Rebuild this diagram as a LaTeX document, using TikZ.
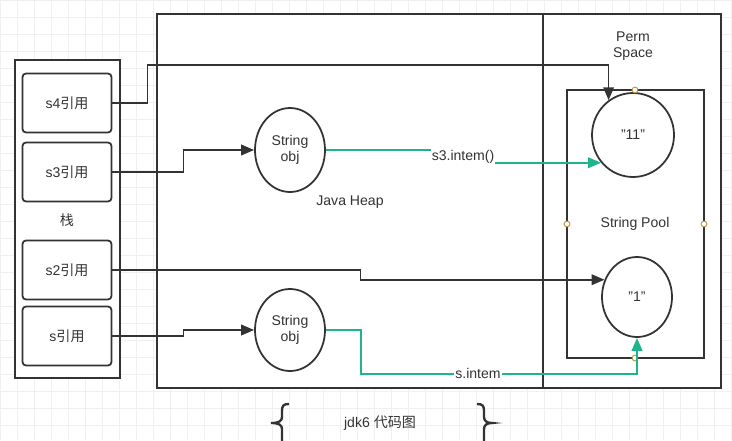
\documentclass[tikz,border=0pt]{standalone}
\usepackage{fontspec}
\setmainfont{Liberation Sans}
\newfontfamily\cjk{Noto Sans CJK SC}
\usetikzlibrary{shapes.geometric,arrows.meta,calc}
\definecolor{ink}{RGB}{51,51,51}
\definecolor{linkgreen}{RGB}{30,180,140}
\definecolor{portring}{RGB}{190,150,60}

\begin{document}
\begin{tikzpicture}[x=0.03cm,y=-0.03cm,
  every node/.style={font=\fontsize{12}{14}\selectfont,text=ink},
  frame/.style={draw=ink,line width=1.5pt,fill=white},
  refbox/.style={draw=ink,line width=1.5pt,rounded corners=3pt,fill=white,minimum width=2.67cm,minimum height=1.77cm},
  objcirc/.style={ellipse,draw=ink,line width=1.5pt,fill=white,inner sep=0pt,align=center},
  link/.style={draw=ink,line width=1.5pt,-{Triangle[length=11pt,width=9pt]}},
  greenlink/.style={draw=linkgreen,line width=1.5pt,-{Triangle[length=11pt,width=9pt]}},
  tag/.style={fill=white,inner sep=1pt},
  port/.style={circle,draw=portring,fill=white,line width=0.8pt,inner sep=0pt,minimum size=5pt}]
  \useasboundingbox (0,0) rectangle (732,440);
  \draw[black!6,step=0.51cm] (0,0) grid (732,440);
  % frames
  \draw[frame] (15,60) rectangle (120,378);
  \draw[frame] (157,14) rectangle (543,388);
  \draw[frame] (543,14) rectangle (721,388);
  \draw[frame] (567,90) rectangle (704,358);
  % stack
  \node[refbox] (s4ref) at (67,103) {s4\cjk 引用};
  \node[refbox] (s3ref) at (67,172) {s3\cjk 引用};
  \node (stack) at (67,220) {\cjk 栈};
  \node[refbox] (s2ref) at (67,270) {s2\cjk 引用};
  \node[refbox] (sref) at (67,336) {s\cjk 引用};
  % heap
  \node[objcirc,minimum width=2.1cm,minimum height=2.52cm] (obj3) at (290,150) {String\\obj};
  \node[objcirc,minimum width=2.1cm,minimum height=2.46cm] (obj0) at (290,330) {String\\obj};
  \node (heap) at (350,202) {Java Heap};
  % perm space
  \node[align=center] (perm) at (633,46) {Perm\\Space};
  \node (pool) at (635,224) {String Pool};
  \node[objcirc,minimum width=2.46cm,minimum height=2.52cm] (str11) at (633,135) {"11"};
  \node[objcirc,minimum width=2.1cm,minimum height=2.4cm] (str1) at (637,297) {"1"};
  \foreach \px/\py [count=\i] in {635/90,567/224,704/224,635/358}
    \node[port] (port\i) at (\px,\py) {};
  % connectors
  \draw[link] (s4ref.east) -- ++(35,0) |- ($(str11.125)+(0,-35)$) -- (str11.125);
  \draw[link] (s3ref.east) -- ++(71,0) |- (obj3.west);
  \draw[link] (s2ref.east) -- ++(248,0) |- (str1.152);
  \draw[link] (sref.east) -- ++(71,0) |- (obj0.west);
  \draw[greenlink] (obj3.east) -- ++(138,0) |- (str11.221);
  \draw[greenlink] (obj0.east) -- ++(35,0) |- ($(str1.south)+(0,36)$) -- (str1.south);
  \node[tag] (intern3) at (463,157) {s3.intem()};
  \node[tag] (intern0) at (478,373) {s.intem};
  % caption
  \begin{scope}
    \clip (0,0) rectangle (732,440);
    \draw[ink,line width=2pt] (289,404) .. controls (283,404) and (282,406) .. (282,411) -- (282,417) .. controls (282,421) and (279,423) .. (271,423) .. controls (279,423) and (282,425) .. (282,429) -- (282,450);
    \draw[ink,line width=2pt] (477,404) .. controls (483,404) and (484,406) .. (484,411) -- (484,417) .. controls (484,421) and (487,423) .. (492,423) .. controls (487,423) and (484,425) .. (484,429) -- (484,450);
  \end{scope}
  \node (caption) at (380,423) {jdk6 {\cjk 代码图}};
\end{tikzpicture}
\end{document}
